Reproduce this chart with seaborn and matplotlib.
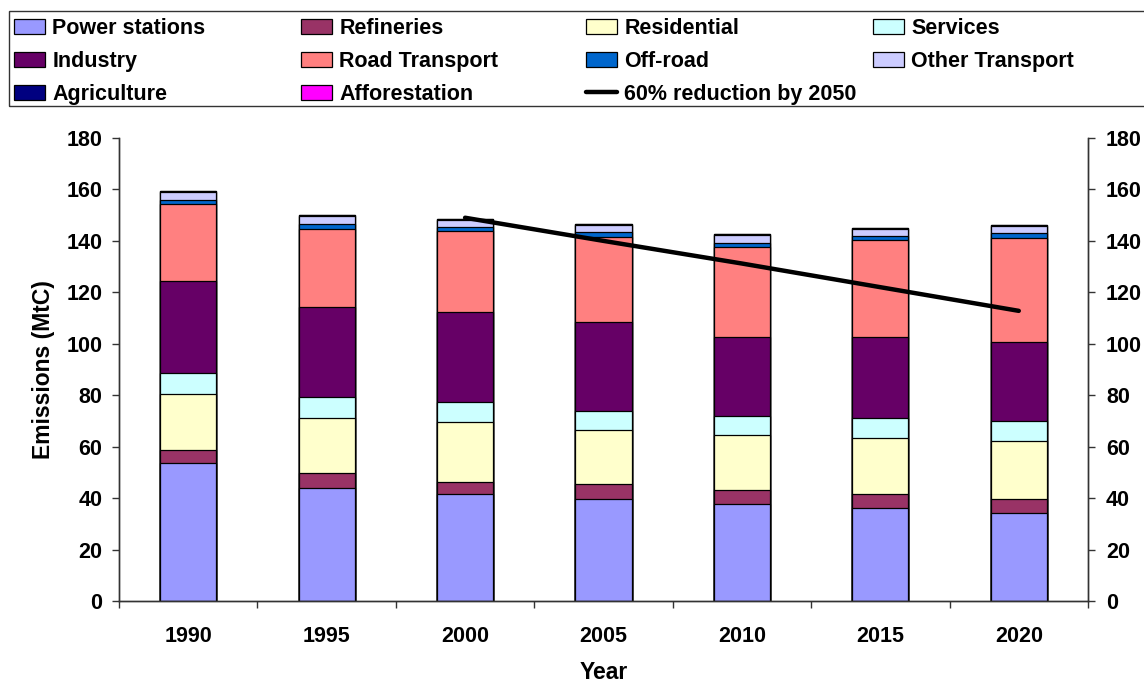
import matplotlib
matplotlib.use("Agg")
import matplotlib.pyplot as plt
import seaborn as sns
import pandas as pd
import numpy as np
from matplotlib.patches import Rectangle

years = ["1990", "1995", "2000", "2005", "2010", "2015", "2020"]
power_stations = [53.8, 44.1, 41.7, 39.7, 37.6, 36.2, 34.2]
refineries = [4.9, 5.6, 4.6, 5.7, 5.6, 5.5, 5.5]
residential = [21.7, 21.3, 23.2, 21.1, 21.3, 21.8, 22.6]
services = [8.4, 8.4, 8.0, 7.5, 7.3, 7.7, 7.8]
industry = [35.7, 35.0, 34.7, 34.6, 31.0, 31.6, 30.6]
road_transport = [29.9, 30.2, 31.7, 33.0, 34.8, 37.4, 40.3]
off_road = [1.5, 1.8, 1.6, 2.0, 1.7, 1.7, 2.0]
other_transport = [3.1, 3.2, 2.6, 2.5, 2.9, 2.8, 2.8]
agriculture = [0.4, 0.4, 0.4, 0.4, 0.4, 0.4, 0.4]
afforestation = [0, 0, 0, 0, 0, 0, 0]

target_years = ["2000", "2005", "2010", "2015", "2020"]
target_values = [149.0, 140.0, 131.2, 122.0, 112.8]
target_label = "60% reduction by 2050"

sector_names = ["Power stations", "Refineries", "Residential", "Services",
                "Industry", "Road Transport", "Off-road", "Other Transport",
                "Agriculture", "Afforestation"]
sector_values = [power_stations, refineries, residential, services, industry,
                 road_transport, off_road, other_transport, agriculture,
                 afforestation]
sector_colors = ["#9999FF", "#993366", "#FFFFCC", "#CCFFFF", "#660066",
                 "#FF8080", "#0066CC", "#CCCCFF", "#000080", "#FF00FF"]

sns.set_theme(style="white")
plt.rcParams["font.family"] = ["Liberation Sans", "DejaVu Sans"]
plt.rcParams["font.weight"] = "bold"
plt.rcParams["text.color"] = "black"
plt.rcParams["axes.labelcolor"] = "black"
plt.rcParams["xtick.color"] = "black"
plt.rcParams["ytick.color"] = "black"

FS = 15.5

fig = plt.figure(figsize=(11.44, 6.84), dpi=100)
ax = fig.add_axes([119 / 1144, 1 - 601 / 684, (1088 - 119) / 1144, 463 / 684])

df = pd.DataFrame({"Year": years})
cum = np.zeros(len(years))
cums = []
for vals in sector_values:
    cum = cum + np.array(vals, dtype=float)
    cums.append(cum.copy())

# draw from the top of the stack downwards so lower segments overlay
for name, col, top in reversed(list(zip(sector_names, sector_colors, cums))):
    d = df.copy()
    d["v"] = top
    sns.barplot(data=d, x="Year", y="v", color=col, saturation=1,
                edgecolor="black", linewidth=0.9, width=0.405,
                errorbar=None, label=name, ax=ax)

line_x = [years.index(y) for y in target_years]
sns.lineplot(x=line_x, y=target_values, color="black", linewidth=3.2,
             label=target_label, ax=ax)

ax.set_xlim(-0.5, len(years) - 0.5)
ax.set_ylim(0, 180)
ax.set_yticks(np.arange(0, 181, 20))
ax.set_yticklabels([str(v) for v in range(0, 181, 20)], fontsize=FS,
                   fontweight="bold")

ax.set_xticks(np.arange(-0.5, len(years), 1.0))
ax.set_xticklabels([])
ax.set_xticks(np.arange(len(years)), minor=True)
ax.set_xticklabels(years, minor=True, fontsize=FS, fontweight="bold")
ax.tick_params(axis="x", which="major", direction="out", length=5,
               width=1, color="#333333", bottom=True)
ax.tick_params(axis="x", which="minor", length=0, pad=18, bottom=True,
               labelcolor="black")
ax.tick_params(axis="y", direction="out", length=5, width=1,
               color="#333333", left=True, pad=7, labelcolor="black")

for s in ["left", "bottom", "right"]:
    ax.spines[s].set_color("#333333")
    ax.spines[s].set_linewidth(1)
ax.spines["top"].set_visible(False)

ax.set_xlabel("Year", fontsize=FS + 1, fontweight="bold", color="black")
ax.set_ylabel("Emissions (MtC)", fontsize=FS + 1, fontweight="bold",
              color="black")
ax.xaxis.set_label_coords(0.5, -0.13)
ax.yaxis.set_label_coords(-0.066, 0.5)

ax2 = ax.twinx()
ax2.set_ylim(0, 180)
ax2.set_yticks(np.arange(0, 181, 20))
ax2.set_yticklabels([str(v) for v in range(0, 181, 20)], fontsize=FS,
                    fontweight="bold")
ax2.tick_params(axis="y", direction="out", length=5, width=1,
                color="#333333", right=True, pad=8, labelcolor="black")
for s in ["left", "bottom", "right"]:
    ax2.spines[s].set_color("#333333")
    ax2.spines[s].set_linewidth(1)
ax2.spines["top"].set_visible(False)
ax2.grid(False)
ax.grid(False)

handles, labels = ax.get_legend_handles_labels()
hmap = dict(zip(labels, handles))
if ax.get_legend() is not None:
    ax.get_legend().remove()

legend_order = sector_names + [target_label]
columns = [legend_order[i::4] for i in range(4)]
col_x = [14, 301, 586, 873]
for cx, col in zip(col_x, columns):
    leg = fig.legend([hmap[n] for n in col], col, loc="upper left",
                     bbox_to_anchor=(cx / 1144, 1 - 18 / 684),
                     bbox_transform=fig.transFigure, frameon=False,
                     fontsize=FS, handlelength=1.45, handleheight=0.68,
                     handletextpad=0.33, labelspacing=0.55,
                     borderpad=0, borderaxespad=0)
    for t in leg.get_texts():
        t.set_fontweight("bold")
        t.set_color("black")

fig.patches.append(Rectangle((9 / 1144, 1 - 106 / 684), 1.2, 95 / 684,
                             transform=fig.transFigure, fill=False,
                             edgecolor="#333333", linewidth=1))

fig.savefig("out.png", dpi=100)
